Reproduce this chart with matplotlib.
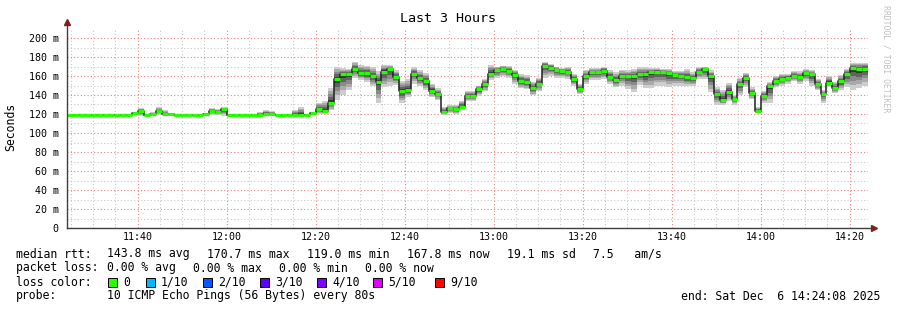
#!/usr/bin/env python
import datetime

import numpy as np
import matplotlib
matplotlib.use('Agg')
import matplotlib.pyplot as plt
import matplotlib.dates as mdates
from matplotlib.patches import Rectangle

W, H = 897, 310
MONO = 'DejaVu Sans Mono'

START = datetime.datetime(2025, 12, 6, 11, 24, 8)
END = datetime.datetime(2025, 12, 6, 14, 24, 8)
STEP_S = 80

# median rtt per 80 s step (ms)
median = [119.4] * 11 + [121.0, 123.5, 119.4, 119.5, 123.0, 120.0, 119.5] + [119.4] * 5 + \
    [120.0, 123.0, 122.0, 125.0] + [119.4] * 5 + [119.4, 120.5, 120.5] + [119.4] * 4 + \
    [119.4, 119.0, 120.7, 125.0, 123.0, 132.0, 156.5, 161.8, 161.8, 167.4,
     162.8, 162.8, 159.7, 154.0, 164.6, 167.0, 159.0, 144.0, 145.0, 162.5,
     157.5, 154.7, 144.5, 140.7, 122.5, 126.0, 125.0, 127.7, 139.0, 139.3,
     146.3, 151.6, 162.5, 166.0, 167.0, 165.6, 161.0, 154.7, 154.0, 147.0,
     152.0, 170.7, 168.8, 166.3, 165.3, 164.6, 156.5, 146.3, 160.4, 164.2,
     164.2, 165.0, 159.0, 155.5, 160.4, 160.0, 159.7, 162.0, 162.0, 164.2,
     164.6, 164.6, 162.8, 161.0, 160.4, 159.0, 157.5, 164.6, 167.0, 159.7,
     140.7, 135.0, 143.5, 135.4, 151.2, 158.2, 141.8, 123.5, 139.3, 149.0,
     154.7, 156.8, 158.2, 160.0, 159.0, 162.8, 161.8, 151.6, 141.0, 153.0,
     147.0, 154.7, 162.5, 168.8, 167.0, 167.8]

# slowest ping per step (top of the smoke)
smoke_hi = [119.4] * 11 + [122, 126, 119.4, 122, 127, 124, 121] + [119.4] * 5 + \
    [121, 126, 125, 127] + [119.4] * 5 + [122, 124, 123] + [119.4] * 3 + \
    [124, 127, 119.4, 122, 132, 134, 147, 170, 168, 167, 175,
     172, 171, 170, 165, 172, 172, 166, 155, 157, 169,
     166, 163, 152, 147, 127, 129, 129, 134, 144, 144,
     150, 157, 172, 170, 171, 171, 166, 162, 161, 154,
     158, 175, 173, 170, 168, 169, 162, 152, 166, 168,
     168, 170, 166, 164, 166, 166, 167, 169, 169, 168,
     168, 167, 167, 165, 165, 167, 164, 170, 170, 166,
     148, 145, 153, 140, 158, 163, 148, 127, 144, 154,
     160, 162, 162, 165, 165, 167, 166, 157, 145, 160,
     154, 161, 167, 174, 174, 174]

# fastest ping per step (bottom of the smoke)
smoke_lo = [119.4] * 11 + [119, 118, 119.4, 119, 119, 119, 119] + [119.4] * 5 + \
    [119, 119, 119, 118] + [119.4] * 5 + [119, 119, 119] + [119.4] * 3 + \
    [119, 119, 119, 119, 120, 120, 124, 135, 140, 145, 158,
     156, 154, 149, 132, 148, 150, 151, 132, 138, 152,
     150, 145, 138, 135, 119, 121, 120, 124, 134, 134,
     139, 144, 156, 158, 160, 158, 152, 147, 146, 140,
     144, 158, 160, 158, 158, 157, 150, 141, 152, 156,
     156, 157, 152, 148, 150, 146, 143, 151, 147, 147,
     150, 150, 148, 150, 150, 149, 150, 157, 157, 143,
     130, 130, 134, 130, 140, 148, 136, 121, 132, 132,
     148, 150, 152, 155, 152, 155, 150, 145, 132, 148,
     142, 145, 148, 145, 147, 150]

loss_labels = ['0', '1/10', '2/10', '3/10', '4/10', '5/10', '9/10']
loss_colors = ['#26ff00', '#00b8ff', '#0059ff', '#5e00ff', '#7e00ff', '#dd00ff', '#ff0000']

rtt_items = ['143.8 ms avg', '170.7 ms max', '119.0 ms min', '167.8 ms now',
             '19.1 ms sd', '7.5   am/s']
loss_items = ['0.00 % avg', '0.00 % max', '0.00 % min', '0.00 % now']


def px(x, y):
    return x / W, 1 - y / H


def _text(fig, x, y, s, **kw):
    kw.setdefault('family', MONO)
    kw.setdefault('fontsize', 8.3)
    kw.setdefault('va', 'center')
    kw.setdefault('color', '#000000')
    fig.text(*px(x, y), s, **kw)


def _plot_smoke(ax):
    n = len(median)
    edges = [START + datetime.timedelta(seconds=STEP_S * i) for i in range(n + 1)]
    med = np.array(median + [median[-1]])
    hi = np.array(smoke_hi + [smoke_hi[-1]])
    lo = np.array(smoke_lo + [smoke_lo[-1]])

    # layered smoke, darker towards the median
    layers = [(1.0, '#cdcdcd'), (0.78, '#aaaaaa'), (0.58, '#8a8a8a'),
              (0.38, '#626262'), (0.18, '#353535')]
    for f, col in layers:
        ax.fill_between(edges, med - f * (med - lo), med + f * (hi - med),
                        step='post', color=col, linewidth=0, zorder=2)

    ax.step(edges, med, where='post', color='#202020', linewidth=1.1, zorder=3)
    ax.hlines(median, edges[:-1], edges[1:], color=loss_colors[0], linewidth=2.3, zorder=4)


def main():
    fig = plt.figure(figsize=(W / 100, H / 100), dpi=100)
    fig.patch.set_facecolor('white')
    left, right, top, bottom = 67, 868, 28.5, 228
    ax = fig.add_axes([left / W, 1 - bottom / H, (right - left) / W, (bottom - top) / H])

    _plot_smoke(ax)

    ax.set_xlim(START, END)
    ax.set_ylim(0, 210)

    ax.xaxis.set_major_locator(mdates.MinuteLocator(byminute=[0, 20, 40]))
    ax.xaxis.set_minor_locator(mdates.MinuteLocator(byminute=range(0, 60, 5)))
    ax.xaxis.set_major_formatter(mdates.DateFormatter('%H:%M'))
    ax.set_yticks(np.arange(0, 201, 20))
    ax.set_yticks(np.arange(10, 210, 20), minor=True)
    ax.set_yticklabels(['0'] + ['%d m' % v for v in range(20, 201, 20)])

    dots = (0, (1, 2))
    ax.grid(which='minor', color='#c8c8c8', linestyle=dots, linewidth=0.8, zorder=1)
    ax.grid(which='major', color='#f08080', linestyle=dots, linewidth=0.8, zorder=1)
    ax.set_axisbelow(True)

    for s in ax.spines.values():
        s.set_visible(False)
    ax.tick_params(which='both', length=0, labelsize=7.2, colors='#000000')
    ax.tick_params(axis='x', pad=3)
    ax.tick_params(axis='y', pad=6)
    for lab in ax.get_xticklabels() + ax.get_yticklabels():
        lab.set_family(MONO)

    # axis lines with arrow heads
    ax.plot([0, 0], [0, 1.03], transform=ax.transAxes, color='#404040', lw=1, clip_on=False, zorder=5)
    ax.plot([0, 1.006], [0, 0], transform=ax.transAxes, color='#404040', lw=1, clip_on=False, zorder=5)
    ax.plot([0], [1.035], marker='^', ms=4, color='#802020', transform=ax.transAxes, clip_on=False, zorder=6)
    ax.plot([1.007], [0], marker='>', ms=4, color='#802020', transform=ax.transAxes, clip_on=False, zorder=6)

    _text(fig, 448, 19, 'Last 3 Hours', fontsize=9.6, ha='center')
    _text(fig, 11, 127, 'Seconds', rotation=90, ha='center')
    _text(fig, 886, 59, 'RRDTOOL / TOBI OETIKER', rotation=270, ha='center',
          fontsize=5.9, color='#c0c0c0')

    # legend block
    _text(fig, 16, 254, 'median rtt:')
    for x, s in zip([107, 207, 307, 407, 507, 593], rtt_items):
        _text(fig, x, 254, s)
    _text(fig, 16, 268, 'packet loss:')
    for x, s in zip([107, 193, 279, 365], loss_items):
        _text(fig, x, 268, s)
    _text(fig, 16, 282, 'loss color:')
    for x, lab, col in zip([108, 146, 203, 260, 317, 373, 435], loss_labels, loss_colors):
        x0, y0 = px(x, 287)
        fig.add_artist(Rectangle((x0, y0), 9 / W, 9 / H, transform=fig.transFigure,
                                 facecolor=col, edgecolor='#000000', linewidth=0.7))
        _text(fig, x + 15, 282, lab)
    _text(fig, 16, 296, 'probe:')
    _text(fig, 107, 296, '10 ICMP Echo Pings (56 Bytes) every 80s')
    _text(fig, 880, 296, 'end: Sat Dec  6 14:24:08 2025', ha='right')

    fig.savefig('out.png', dpi=100, facecolor='white')


if __name__ == '__main__':
    main()
